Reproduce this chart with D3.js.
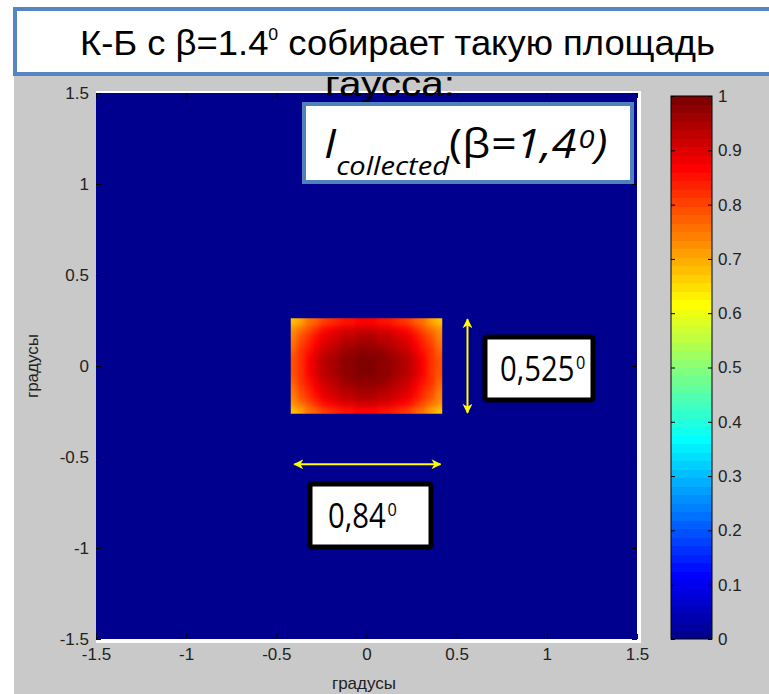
<!DOCTYPE html>
<html>
<head>
<meta charset="utf-8">
<script src="https://cdn.jsdelivr.net/npm/d3@7"></script>
<style>
  body { margin: 0; background: #fff; }
  svg { display: block; }
</style>
</head>
<body>
<div id="chart"></div>
<script>
// Chart values

// tick labels
const xTicks = [-1.5, -1, -0.5, 0, 0.5, 1, 1.5];
const yTicks = [-1.5, -1, -0.5, 0, 0.5, 1, 1.5];
const cbTicks = [0, 0.1, 0.2, 0.3, 0.4, 0.5, 0.6, 0.7, 0.8, 0.9, 1];

// collected patch: half-widths in degrees (0.84 x 0.525)
const patchX = [-0.42, 0.42];
const patchY = [-0.2625, 0.2625];

// intensity profiles across the patch (cell centres)
const xCenters = [-0.40, -0.36, -0.32, -0.28, -0.24, -0.20, -0.16, -0.12, -0.08, -0.04, 0,
                  0.04, 0.08, 0.12, 0.16, 0.20, 0.24, 0.28, 0.32, 0.36, 0.40];
const xProfile = [0.79, 0.83, 0.87, 0.90, 0.93, 0.95, 0.97, 0.98, 0.99, 1.00, 1.00,
                  1.00, 0.99, 0.98, 0.97, 0.95, 0.93, 0.90, 0.87, 0.83, 0.79];
const yCenters = [-0.242, -0.202, -0.162, -0.121, -0.081, -0.040, 0,
                  0.040, 0.081, 0.121, 0.162, 0.202, 0.242];
const yProfile = [0.87, 0.92, 0.95, 0.97, 0.99, 1.00, 1.00,
                  1.00, 0.99, 0.97, 0.95, 0.92, 0.87];

// texts
const titleLine1 = "К-Б с β=1.4";
const titleLine1b = " собирает такую площадь";
const titleLine2 = "гаусса:";
const axisLabel = "градусы";
const heightLabel = "0,525";
const widthLabel = "0,84";

// Layout
const width = 769;
const height = 694;
const plot = {left: 96, right: 637, top: 93, bottom: 639};
const cb = {left: 671, right: 712, top: 96, bottom: 639};
const tickFont = "Liberation Sans, Arial, sans-serif";

const svg = d3.select("#chart")
  .append("svg")
  .attr("width", width)
  .attr("height", height);

// MATLAB jet(64)
const jet = function(v) {
  let i = Math.min(63, Math.max(0, Math.round(v * 63)));
  let t = (i + 1) / 64;
  const c = (x) => Math.round(255 * Math.max(0, Math.min(1, x)));
  return `rgb(${c(1.5 - Math.abs(4 * t - 3))},${c(1.5 - Math.abs(4 * t - 2))},${c(1.5 - Math.abs(4 * t - 1))})`;
};

const defs = svg.append("defs");

// gray figure background
svg.append("rect")
  .attr("x", 14).attr("y", 74)
  .attr("width", width - 14).attr("height", height - 74)
  .attr("fill", "#c9c9c9");

// scales
const x = d3.scaleLinear().domain([-1.5, 1.5]).range([plot.left, plot.right]);
const y = d3.scaleLinear().domain([-1.5, 1.5]).range([plot.bottom, plot.top]);
const cbScale = d3.scaleLinear().domain([0, 1]).range([cb.bottom, cb.top]);

// white edge behind the image
svg.append("rect")
  .attr("x", plot.left).attr("y", plot.top - 2)
  .attr("width", plot.right - plot.left + 4)
  .attr("height", plot.bottom - plot.top + 6)
  .attr("fill", "#fff");

// image background (value 0)
svg.append("rect")
  .attr("x", plot.left).attr("y", plot.top)
  .attr("width", plot.right - plot.left)
  .attr("height", plot.bottom - plot.top)
  .attr("fill", jet(0));

// patch cells
const cellW = (patchX[1] - patchX[0]) / xCenters.length;
const cellH = (patchY[1] - patchY[0]) / yCenters.length;
const cells = [];
yCenters.forEach((yc, j) => {
  xCenters.forEach((xc, i) => {
    cells.push({x: xc, y: yc, v: xProfile[i] * yProfile[j]});
  });
});

// soften the cell grid like the original smooth image
const filt = defs.append("filter")
  .attr("id", "smooth")
  .attr("x", 0).attr("y", 0).attr("width", 1).attr("height", 1)
  .attr("color-interpolation-filters", "sRGB");
filt.append("feGaussianBlur").attr("stdDeviation", 2.5);
filt.append("feComponentTransfer")
  .append("feFuncA").attr("type", "table").attr("tableValues", "1 1");

defs.append("clipPath").attr("id", "patchClip")
  .append("rect")
    .attr("x", x(patchX[0])).attr("y", y(patchY[1]))
    .attr("width", x(patchX[1]) - x(patchX[0]))
    .attr("height", y(patchY[0]) - y(patchY[1]));

svg.append("g")
  .attr("clip-path", "url(#patchClip)")
  .append("g")
  .attr("filter", "url(#smooth)")
  .attr("shape-rendering", "crispEdges")
  .selectAll(".cell")
  .data(cells)
  .enter()
  .append("rect")
    .attr("class", "cell")
    .attr("x", d => Math.floor(x(d.x - cellW / 2)))
    .attr("y", d => Math.floor(y(d.y + cellH / 2)))
    .attr("width", d => Math.ceil(x(d.x + cellW / 2)) - Math.floor(x(d.x - cellW / 2)))
    .attr("height", d => Math.ceil(y(d.y - cellH / 2)) - Math.floor(y(d.y + cellH / 2)))
    .attr("fill", d => jet(d.v));

// axes (inward ticks, matlab style)
const fmt = d => String(d);
const styleAxis = g => {
  g.select(".domain").remove();
  g.attr("font-family", tickFont).attr("font-size", 17);
  g.selectAll(".tick line").attr("stroke", "#000");
  g.selectAll(".tick text").attr("fill", "#222");
};
svg.append("g")
  .attr("transform", `translate(0,${plot.bottom})`)
  .call(d3.axisBottom(x).tickValues(xTicks).tickSize(-5).tickPadding(9).tickFormat(fmt))
  .call(styleAxis);
svg.append("g")
  .attr("transform", `translate(${plot.left},0)`)
  .call(d3.axisLeft(y).tickValues(yTicks).tickSize(-5).tickPadding(7).tickFormat(fmt))
  .call(styleAxis);
svg.append("g")
  .attr("transform", `translate(0,${plot.top})`)
  .call(d3.axisTop(x).tickValues(xTicks).tickSize(-5).tickFormat(""))
  .call(styleAxis);
svg.append("g")
  .attr("transform", `translate(${plot.right},0)`)
  .call(d3.axisRight(y).tickValues(yTicks).tickSize(-5).tickFormat(""))
  .call(styleAxis);

// axis labels
svg.append("text")
  .attr("x", 364).attr("y", 689)
  .attr("text-anchor", "middle")
  .attr("font-family", tickFont)
  .attr("font-size", 17).attr("fill", "#222")
  .text(axisLabel);
svg.append("text")
  .attr("transform", "translate(38,366) rotate(-90)")
  .attr("text-anchor", "middle")
  .attr("font-family", tickFont)
  .attr("font-size", 17).attr("fill", "#222")
  .text(axisLabel);

// colorbar
const bands = d3.range(64);
svg.append("g")
  .attr("shape-rendering", "crispEdges")
  .selectAll(".band")
  .data(bands)
  .enter()
  .append("rect")
    .attr("class", "band")
    .attr("x", cb.left)
    .attr("y", d => Math.floor(cbScale((d + 1) / 64)))
    .attr("width", cb.right - cb.left)
    .attr("height", d => Math.ceil(cbScale(d / 64)) - Math.floor(cbScale((d + 1) / 64)))
    .attr("fill", d => jet(d / 63));
svg.append("rect")
  .attr("x", cb.left).attr("y", cb.top)
  .attr("width", cb.right - cb.left).attr("height", cb.bottom - cb.top)
  .attr("fill", "none").attr("stroke", "#000");
svg.append("g")
  .attr("transform", `translate(${cb.right},0)`)
  .call(d3.axisRight(cbScale).tickValues(cbTicks).tickSize(-4).tickPadding(6).tickFormat(fmt))
  .call(styleAxis);
svg.append("g")
  .attr("transform", `translate(${cb.left},0)`)
  .call(d3.axisLeft(cbScale).tickValues(cbTicks).tickSize(-4).tickFormat(""))
  .call(styleAxis);

// title box
svg.append("rect")
  .attr("x", 15).attr("y", 9)
  .attr("width", 780).attr("height", 65)
  .attr("fill", "#fff")
  .attr("stroke", "#5585c3").attr("stroke-width", 4);

const title = svg.append("text")
  .attr("x", 80).attr("y", 55)
  .attr("textLength", 635).attr("lengthAdjust", "spacingAndGlyphs")
  .attr("font-family", "Liberation Sans, sans-serif")
  .attr("font-size", 35).attr("fill", "#000");
title.append("tspan").text(titleLine1);
title.append("tspan").attr("font-size", 17).attr("dy", -15).text("0");
title.append("tspan").attr("dy", 15).text(titleLine1b);
svg.append("text")
  .attr("x", 325).attr("y", 96)
  .attr("textLength", 130).attr("lengthAdjust", "spacingAndGlyphs")
  .attr("font-family", "Liberation Sans, sans-serif")
  .attr("font-size", 35).attr("fill", "#000")
  .text(titleLine2);

// I_collected label box
svg.append("rect")
  .attr("x", 304).attr("y", 104)
  .attr("width", 328).attr("height", 78)
  .attr("fill", "#fff")
  .attr("stroke", "#4f81bd").attr("stroke-width", 4);
const lab = svg.append("text")
  .attr("transform", "translate(324,158) scale(1.12,1)")
  .attr("font-family", "Open Sans, Noto Sans, sans-serif")
  .attr("font-size", 40).attr("fill", "#000");
lab.append("tspan").attr("font-style", "italic").text("I");
lab.append("tspan").attr("font-style", "italic").attr("font-size", 26).attr("dy", 17).text("collected");
lab.append("tspan").attr("dy", -17).text("(β");
lab.append("tspan").attr("font-style", "italic").text("=1,4");
lab.append("tspan").attr("font-style", "italic").attr("font-size", 26).attr("dx", 2).attr("dy", -10).text("0");
lab.append("tspan").attr("font-style", "italic").attr("dy", 10).text(")");

// dimension arrows
defs.append("marker")
  .attr("id", "head")
  .attr("viewBox", "0 0 10 10")
  .attr("refX", 9).attr("refY", 5)
  .attr("markerWidth", 5).attr("markerHeight", 5)
  .attr("orient", "auto-start-reverse")
  .append("path")
    .attr("d", "M0,0 L10,5 L0,10 L3,5 Z")
    .attr("fill", "#ffff00");

svg.append("line")
  .attr("x1", x(0.56)).attr("x2", x(0.56))
  .attr("y1", y(patchY[1]) + 1).attr("y2", y(patchY[0]) - 1)
  .attr("stroke", "#ffff00").attr("stroke-width", 2)
  .attr("marker-start", "url(#head)").attr("marker-end", "url(#head)");
svg.append("line")
  .attr("x1", x(-0.40)).attr("x2", x(0.41))
  .attr("y1", y(-0.54)).attr("y2", y(-0.54))
  .attr("stroke", "#ffff00").attr("stroke-width", 2)
  .attr("marker-start", "url(#head)").attr("marker-end", "url(#head)");

// dimension boxes
const dimBox = function(bx, by, bw, bh, label, tx) {
  svg.append("rect")
    .attr("x", bx).attr("y", by)
    .attr("width", bw).attr("height", bh)
    .attr("rx", 2)
    .attr("fill", "#fff")
    .attr("stroke", "#000").attr("stroke-width", 5);
  const t = svg.append("text")
    .attr("transform", `translate(${tx},${by + bh / 2 + 12}) scale(0.86,1)`)
    .attr("font-family", "Open Sans, Noto Sans, sans-serif")
    .attr("font-size", 34).attr("fill", "#000");
  t.append("tspan").text(label);
  t.append("tspan").attr("font-size", 19).attr("dx", 2).attr("dy", -12).text("0");
};
dimBox(485, 337, 108, 63, heightLabel, 500);
dimBox(310, 484, 121, 63, widthLabel, 328);
</script>
</body>
</html>
